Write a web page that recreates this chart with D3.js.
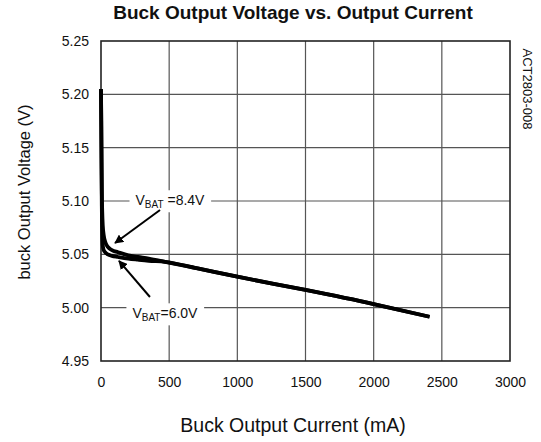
<!DOCTYPE html>
<html><head><meta charset="utf-8">
<script src="https://cdn.jsdelivr.net/npm/d3@7"></script>
<style>body{margin:0;background:#fff}svg{display:block}text{font-family:"Liberation Sans",Arial,sans-serif;fill:#111}</style>
</head><body>
<svg id="c" width="541" height="442"></svg>
<script>
const xTicks=[0,500,1000,1500,2000,2500,3000];
const yTicks=[4.95,5.00,5.05,5.10,5.15,5.20,5.25];
const curve84I=[0,2,4,6,9,13,20,30,50,80,125,200,271,350,470,700,1000,1500,2000,2410];
const curve84V=[5.205,5.175,5.14,5.11,5.09,5.077,5.068,5.062,5.057,5.054,5.052,5.049,5.0475,5.046,5.043,5.037,5.029,5.0166,5.0034,4.9915];
const curve60I=[0,2,4,6,9,13,20,30,50,80,125,200,271,350,470,700,1000,1500,2000,2410];
const curve60V=[5.205,5.17,5.13,5.095,5.07,5.058,5.054,5.052,5.050,5.0485,5.0475,5.046,5.045,5.044,5.043,5.037,5.029,5.0166,5.0034,4.9915];
const annI=[103,433,506];const annV=[5.0606,5.0916,5.096];
const ann2I=[132,359,469];const ann2V=[5.0438,5.010,4.990];

const svg=d3.select("#c");
const L=101,R=510,T=41,B=361;
const x=d3.scaleLinear().domain([0,3000]).range([L,R]);
const y=d3.scaleLinear().domain([4.95,5.25]).range([B,T]);

// title
svg.append("text").attr("x",293).attr("y",19).attr("text-anchor","middle").attr("font-size",19).attr("font-weight","bold").text("Buck Output Voltage vs. Output Current");

// grid
const g=svg.append("g");
g.selectAll(".vx").data(xTicks.slice(1,-1)).join("line").attr("x1",d=>x(d)).attr("x2",d=>x(d)).attr("y1",T).attr("y2",B).attr("stroke","#555").attr("stroke-width",1.2);
g.selectAll(".hy").data(yTicks.slice(1,-1)).join("line").attr("x1",L).attr("x2",R).attr("y1",d=>y(d)).attr("y2",d=>y(d)).attr("stroke","#555").attr("stroke-width",1.2);

// axes labels
const xa=svg.append("g").attr("transform",`translate(0,${B})`).call(d3.axisBottom(x).tickValues(xTicks).tickSize(0).tickPadding(16).tickFormat(d3.format("d")));
xa.select(".domain").remove();
xa.selectAll("text").attr("font-size",14).style("font-family",'"Liberation Sans",Arial,sans-serif').attr("fill","#111");
const ya=svg.append("g").attr("transform",`translate(${L},0)`).call(d3.axisLeft(y).tickValues(yTicks).tickSize(0).tickPadding(12).tickFormat(d3.format(".2f")));
ya.select(".domain").remove();
ya.selectAll("text").attr("font-size",14).style("font-family",'"Liberation Sans",Arial,sans-serif').attr("fill","#111");

svg.append("text").attr("x",293).attr("y",432).attr("text-anchor","middle").attr("font-size",19.5).text("Buck Output Current (mA)");
svg.append("text").attr("transform","translate(30,192) rotate(-90)").attr("text-anchor","middle").attr("font-size",16.5).text("buck Output Voltage (V)");
svg.append("text").attr("transform","translate(523,89) rotate(90)").attr("text-anchor","middle").attr("font-size",13).text("ACT2803-008");

function label(I,V,txt){
  const t=svg.append("text").attr("x",x(I)).attr("y",y(V)).attr("text-anchor","middle").attr("font-size",14);
  t.append("tspan").text("V");
  t.append("tspan").attr("font-size",10).attr("dy",3).text(txt[0]);
  t.append("tspan").attr("dy",-3).text(txt[1]);
  return t;
}
const bg=svg.append("g");
// frame
svg.append("rect").attr("x",L).attr("y",T).attr("width",R-L).attr("height",B-T).attr("fill","none").attr("stroke","#222").attr("stroke-width",1.6);

const line=d3.line().x(d=>x(d[0])).y(d=>y(d[1])).curve(d3.curveMonotoneX);
svg.append("path").datum(curve60I.map((d,i)=>[d,curve60V[i]])).attr("d",line).attr("fill","none").attr("stroke","#000").attr("stroke-width",3.8).attr("stroke-linejoin","round");
svg.append("path").datum(curve84I.map((d,i)=>[d,curve84V[i]])).attr("d",line).attr("fill","none").attr("stroke","#000").attr("stroke-width",3.8).attr("stroke-linejoin","round");

const t1=label(annI[2],annV[2],["BAT"," =8.4V"]);
const t2=label(ann2I[2],ann2V[2],["BAT","=6.0V"]);
[t1,t2].forEach(t=>{const b=t.node().getBBox();bg.append("rect").attr("x",b.x-6).attr("y",b.y-2).attr("width",b.width+12).attr("height",b.height+4).attr("fill","#fff");});

// arrows
svg.append("defs").append("marker").attr("id","ah").attr("viewBox","0 0 10 10").attr("refX",9).attr("refY",5).attr("markerWidth",4.5).attr("markerHeight",4.5).attr("orient","auto").attr("markerUnits","strokeWidth").append("path").attr("d","M0,0L10,5L0,10Z").attr("fill","#000");
[[annI,annV],[ann2I,ann2V]].forEach(([I,V])=>{
  svg.append("line").attr("x1",x(I[1])).attr("y1",y(V[1])).attr("x2",x(I[0])).attr("y2",y(V[0])).attr("stroke","#000").attr("stroke-width",2).attr("marker-end","url(#ah)");
});
</script>
</body></html>
